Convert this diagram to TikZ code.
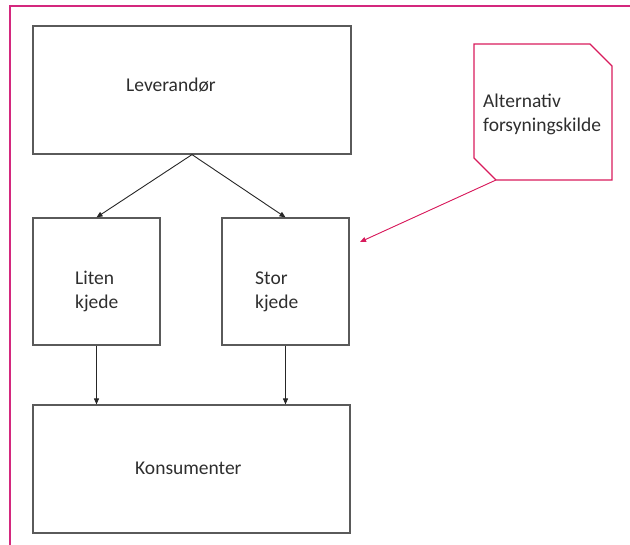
\documentclass[tikz,border=0pt]{standalone}
\usepackage{fontspec}
\setmainfont{Carlito}
\usepackage{tikz}
\usetikzlibrary{arrows.meta}

\definecolor{framepink}{HTML}{D4287E}
\definecolor{altred}{HTML}{D81B5C}
\definecolor{boxgray}{HTML}{5A5A5A}
\definecolor{txtgray}{HTML}{2E2E2E}

\tikzset{
  flowbox/.style={draw=boxgray, line width=1.2pt, inner sep=0pt, minimum width=#1},
  flowbox/.default=127pt,
  lbl/.style={anchor=base west, inner sep=0pt, text=txtgray, font=\fontsize{19.5}{24}\selectfont},
  flowarrow/.style={draw=black!85, line width=0.9pt, -{Triangle[length=6pt,width=5pt]}},
}

\begin{document}
\begin{tikzpicture}[x=1pt, y=-1pt]
            \useasboundingbox (0,0) rectangle (630,545);
            \draw[framepink, line width=1.2pt] (10,545) -- (10,6) -- (630,6);

            \node[flowbox=318pt, minimum height=128pt] (lev) at (192,90) {};
            \node[flowbox, minimum height=127pt] (liten) at (96.5,281.5) {};
            \node[flowbox, minimum height=127pt] (stor) at (285.5,281.5) {};
            \node[flowbox=317pt, minimum height=128pt] (kons) at (191.5,469) {};

            \node[lbl] (levtxt) at (126,92) {Leverandør};
            \node[lbl] (litentxt) at (75,285) {Liten};
            \node[lbl] (litentxtb) at (75,309) {kjede};
            \node[lbl] (stortxt) at (255,285) {Stor};
            \node[lbl] (stortxtb) at (255,309) {kjede};
            \node[lbl] (konstxt) at (135,475) {Konsumenter};

            \draw[altred, line width=1.2pt] (474,44) -- (590,44) -- (612,66) -- (612,180) -- (496,180) coordinate (altcorner) -- (474,158) -- cycle;
            \node[lbl] (alttxt) at (483,108) {Alternativ};
            \node[lbl] (alttxtb) at (483,132) {forsyningskilde};

            \draw[flowarrow] (lev.south) -- (liten.north);
            \draw[flowarrow] (lev.south) -- (stor.north);
            \draw[flowarrow] (liten.south) -- (liten.south |- kons.north);
            \draw[flowarrow] (stor.south) -- (stor.south |- kons.north);

            \coordinate (altend) at (360,242);
            \draw[flowarrow, draw=altred, fill=altred] (altcorner) -- (altend);
        \end{tikzpicture}
\end{document}
